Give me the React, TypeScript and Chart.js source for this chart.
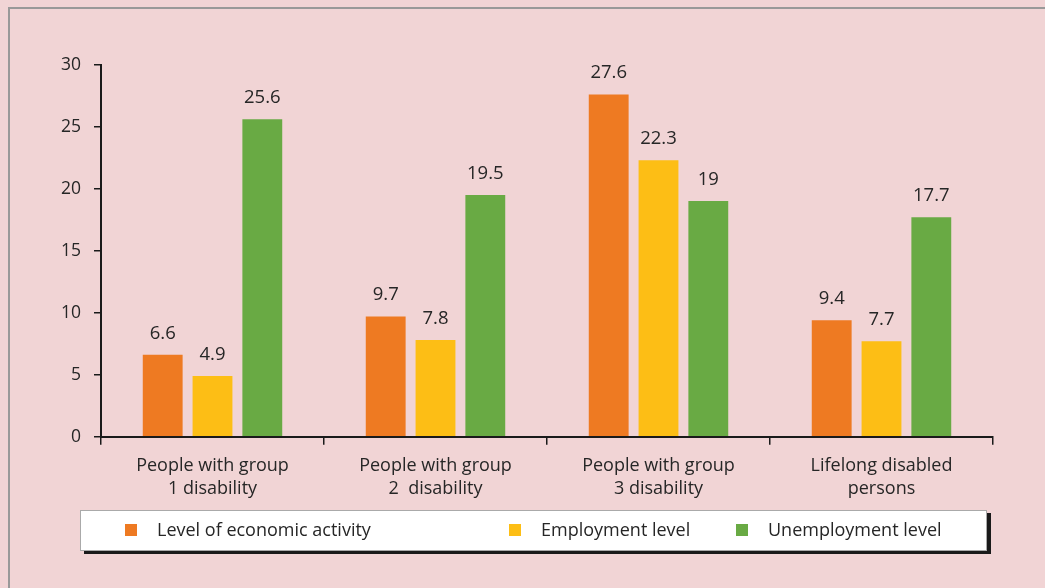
import React, { useEffect, useRef } from "react";
import { Chart, registerables } from "chart.js";

Chart.register(...registerables);

const categories: string[][] = [
  ["People with group", "1 disability"],
  ["People with group", "2  disability"],
  ["People with group", "3 disability"],
  ["Lifelong disabled", "persons"],
];

const seriesNames = ["Level of economic activity", "Employment level", "Unemployment level"];
const economicActivity = [6.6, 9.7, 27.6, 9.4];
const employmentLevel = [4.9, 7.8, 22.3, 7.7];
const unemploymentLevel = [25.6, 19.5, 19, 17.7];
const seriesColors = ["#ee7a22", "#fdbe15", "#69aa44"];
const yTicks = { min: 0, max: 30, step: 5 };

const legendSquareX = [125, 509, 736];
const FONT = "'Open Sans', 'Noto Sans', sans-serif";
const TEXT = "#262626";

const valueLabels = {
  id: "valueLabels",
  afterDatasetsDraw(chart: any) {
    const ctx = chart.ctx;
    ctx.save();
    ctx.fillStyle = TEXT;
    ctx.font = `18.5px ${FONT}`;
    ctx.textAlign = "center";
    ctx.textBaseline = "alphabetic";
    chart.data.datasets.forEach((ds: any, i: number) => {
      const meta = chart.getDatasetMeta(i);
      meta.data.forEach((el: any, j: number) => {
        ctx.fillText(String(ds.data[j]), el.x, el.y - 16);
      });
    });
    ctx.restore();
  },
};

export default function App() {
  const ref = useRef<HTMLCanvasElement | null>(null);

  useEffect(() => {
    if (!ref.current) return;
    const values = [economicActivity, employmentLevel, unemploymentLevel];
    const chart = new Chart(ref.current, {
      type: "bar",
      data: {
        labels: categories,
        datasets: seriesNames.map((name, i) => ({
          label: name,
          data: values[i],
          backgroundColor: seriesColors[i],
          borderWidth: 0,
          categoryPercentage: 0.67,
          barPercentage: 0.8,
        })),
      },
      options: {
        animation: false,
        responsive: true,
        maintainAspectRatio: false,
        layout: { padding: { top: 64.7, right: 52, left: 0, bottom: 0 } },
        plugins: {
          legend: { display: false },
          tooltip: { enabled: false },
        },
        scales: {
          x: {
            afterFit: (s: any) => {
              s.height = 151.3;
            },
            border: { display: true, color: "#1a1a1a", width: 2 },
            grid: {
              drawOnChartArea: false,
              drawTicks: true,
              tickLength: 8,
              color: "#1a1a1a",
              lineWidth: 1.5,
              offset: true,
            },
            ticks: {
              color: TEXT,
              font: { family: FONT, size: 18, lineHeight: 1.3 },
              padding: 9,
              maxRotation: 0,
            },
          },
          y: {
            min: yTicks.min,
            max: yTicks.max,
            afterFit: (s: any) => {
              s.width = 101;
            },
            border: { display: true, color: "#1a1a1a", width: 2 },
            grid: {
              drawOnChartArea: false,
              drawTicks: true,
              tickLength: 7,
              color: "#1a1a1a",
              lineWidth: 1.5,
            },
            ticks: {
              stepSize: yTicks.step,
              color: TEXT,
              font: { family: FONT, size: 17.5 },
              padding: 13,
            },
          },
        },
      },
      plugins: [valueLabels],
    });
    return () => chart.destroy();
  }, []);

  return (
    <div
      style={{
        position: "fixed",
        left: 0,
        top: 0,
        width: 1045,
        height: 588,
        background: "#f1d4d5",
        overflow: "hidden",
        fontFamily: FONT,
      }}
    >
      <div
        style={{
          position: "absolute",
          left: 8,
          top: 7,
          width: 1100,
          height: 700,
          border: "2px solid #999999",
          boxSizing: "border-box",
        }}
      />
      <canvas ref={ref} style={{ position: "absolute", left: 0, top: 0, width: 1045, height: 588 }} />
      <div
        style={{
          position: "absolute",
          left: 80,
          top: 510,
          width: 907,
          height: 41,
          background: "#ffffff",
          border: "1.5px solid #aaaaaa",
          boxSizing: "border-box",
          boxShadow: "4px 3px 0 #1a1a1a",
        }}
      />
      {seriesNames.map((name, i) => (
        <React.Fragment key={name}>
          <div
            style={{
              position: "absolute",
              left: legendSquareX[i],
              top: 524,
              width: 12,
              height: 12,
              background: seriesColors[i],
            }}
          />
          <div
            style={{
              position: "absolute",
              left: legendSquareX[i] + 32,
              top: 517,
              lineHeight: "25px",
              fontSize: 18,
              color: TEXT,
              whiteSpace: "nowrap",
            }}
          >
            {name}
          </div>
        </React.Fragment>
      ))}
    </div>
  );
}
